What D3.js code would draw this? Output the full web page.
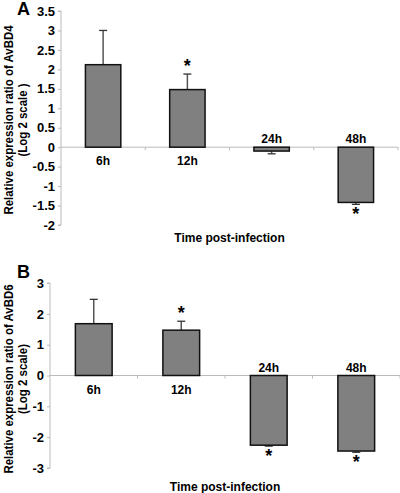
<!DOCTYPE html>
<html><head><meta charset="utf-8">
<script src="https://cdn.jsdelivr.net/npm/d3@7"></script>
<style>body{margin:0;background:#fff}svg{display:block}text{font-family:"Liberation Sans",Arial,sans-serif;font-weight:bold}</style>
</head><body><svg id="c" width="400" height="493"></svg>
<script>
const categories = ["6h","12h","24h","48h"];
const valuesA = [2.12, 1.48, -0.1, -1.42];
const errorsA = [0.88, 0.40, 0.07, 0.05];
const sigA = [false, true, false, true];
const ticksA = [-2,-1.5,-1,-0.5,0,0.5,1,1.5,2,2.5,3,3.5];
const valuesB = [1.68, 1.47, -2.26, -2.45];
const errorsB = [0.79, 0.29, 0.03, 0.04];
const sigB = [false, true, true, true];
const ticksB = [-3,-2,-1,0,1,2,3];

const svg = d3.select("#c");

function panel(cfg){
  const g = svg.append("g");
  const x = d3.scaleBand().domain(categories).range([cfg.x0, cfg.x1]).paddingInner(0.58).paddingOuter(0.29);
  const y = d3.scaleLinear().domain(cfg.domain).range([cfg.yb, cfg.yt]);
  const y0 = y(0);
  const ax = g.append("g").attr("transform", `translate(${cfg.x0},0)`)
    .call(d3.axisLeft(y).tickValues(cfg.ticks).tickSize(3).tickPadding(3).tickFormat(d=>String(d)));
  ax.select(".domain").attr("stroke","#bbb").attr("d",`M-3,${cfg.yt}H0V${cfg.yb}H-3`);
  ax.selectAll(".tick line").attr("stroke","#bbb");
  ax.selectAll(".tick text").attr("fill","#000").style("font-size","13px").style("font-weight","bold").style("font-family","'Liberation Sans',Arial,sans-serif");
  const step = (cfg.x1 - cfg.x0)/categories.length;
  g.append("line").attr("x1",cfg.x0).attr("x2",cfg.x1).attr("y1",y0).attr("y2",y0).attr("stroke","#bbb");
  categories.forEach((c,i)=>{
    const bx = cfg.x0 + step*(i+1);
    g.append("line").attr("x1",bx).attr("x2",bx).attr("y1",y0).attr("y2",y0+3).attr("stroke","#bbb");
  });
  cfg.values.forEach((v,i)=>{
    const cx = x(categories[i]) + x.bandwidth()/2;
    const ye = y(v + (v>=0?cfg.errors[i]:-cfg.errors[i]));
    g.append("line").attr("x1",cx).attr("x2",cx).attr("y1",y(v)).attr("y2",ye).attr("stroke","#555").attr("stroke-width",1.5);
    g.append("line").attr("x1",cx-4).attr("x2",cx+4).attr("y1",ye).attr("y2",ye).attr("stroke","#333").attr("stroke-width",1.3);
  });
  g.selectAll("rect.bar").data(cfg.values).join("rect")
    .attr("x",(d,i)=>x(categories[i])).attr("width",x.bandwidth())
    .attr("y",d=>Math.min(y(d),y0)).attr("height",d=>Math.abs(y(d)-y0))
    .attr("fill","#808080").attr("stroke","#111").attr("stroke-width",1.5);
  cfg.values.forEach((v,i)=>{
    const cx = x(categories[i]) + x.bandwidth()/2;
    g.append("text").attr("x",cx).attr("y", v>=0 ? y0+18 : y0-4).attr("text-anchor","middle")
      .style("font-size","12px").text(categories[i]);
    if(cfg.sig[i]){
      const ye = y(v + (v>=0?cfg.errors[i]:-cfg.errors[i]));
      g.append("text").attr("x",cx).attr("y", v>=0 ? ye-2 : ye+16).attr("text-anchor","middle")
        .style("font-size","18px").text("*");
    }
  });
  g.append("text").attr("x",(cfg.x0+cfg.x1)/2).attr("y",cfg.xt).attr("text-anchor","middle").style("font-size","12px").text("Time post-infection");
  const yt = g.append("text").attr("transform",`translate(${cfg.ytx},${cfg.ytc}) rotate(-90) scale(0.88,1)`).attr("text-anchor","middle").style("font-size","13px");
  yt.append("tspan").attr("x",0).attr("dy",0).text(cfg.ytitle1);
  yt.append("tspan").attr("x",0).attr("dy",14).text(cfg.ytitle2);
  g.append("text").attr("x",17).attr("y",cfg.ly).style("font-size","18px").text(cfg.letter);
}

panel({x0:61,x1:398,domain:[-2,3.5],yb:225,yt:11,ticks:ticksA,values:valuesA,errors:errorsA,sig:sigA,
  xt:242,ytx:13,ytc:120,ytitle1:"Relative expression ratio of AvBD4",ytitle2:"(Log 2 scale )",letter:"A",ly:15});
panel({x0:50,x1:400,domain:[-3,3],yb:468,yt:283,ticks:ticksB,values:valuesB,errors:errorsB,sig:sigB,
  xt:491,ytx:13,ytc:379,ytitle1:"Relative expression ratio of AvBD6",ytitle2:"(Log 2 scale)",letter:"B",ly:278});
</script></body></html>
